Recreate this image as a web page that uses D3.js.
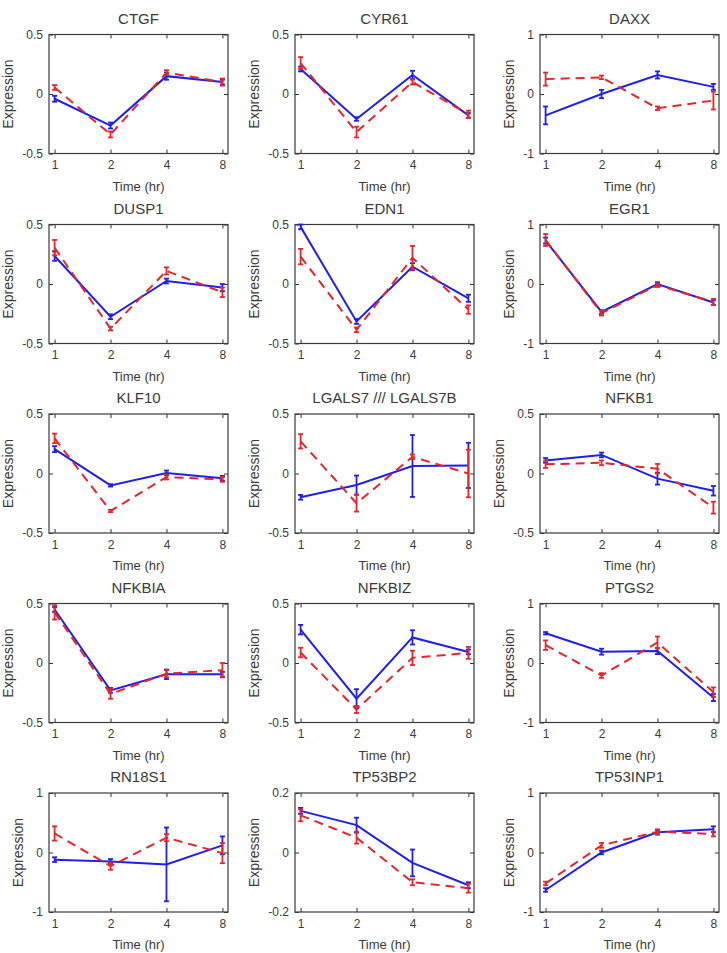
<!DOCTYPE html>
<html><head><meta charset="utf-8">
<script src="https://cdn.jsdelivr.net/npm/d3@7"></script>
<style>body{margin:0;background:#fff}</style>
</head><body><svg id="c" width="727" height="953"></svg>
<script>
const genes = ["CTGF","CYR61","DAXX","DUSP1","EDN1","EGR1","KLF10","LGALS7 /// LGALS7B","NFKB1","NFKBIA","NFKBIZ","PTGS2","RN18S1","TP53BP2","TP53INP1"];
const times = ["1","2","4","8"];
const yLimits = [[-0.5,0.5],[-0.5,0.5],[-1,1],[-0.5,0.5],[-0.5,0.5],[-1,1],[-0.5,0.5],[-0.5,0.5],[-0.5,0.5],[-0.5,0.5],[-0.5,0.5],[-1,1],[-1,1],[-0.2,0.2],[-1,1]];
const yTickLabelsHalf = ["-0.5","0","0.5"];
const yTickLabelsOne = ["-1","0","1"];
const yTickLabelsFifth = ["-0.2","0","0.2"];
const blueMean = [
 [-0.04,-0.265,0.15,0.10],[0.21,-0.21,0.16,-0.18],[-0.36,0.0,0.32,0.12],
 [0.235,-0.275,0.025,-0.03],[0.48,-0.315,0.145,-0.12],[0.73,-0.47,0.0,-0.31],
 [0.205,-0.10,0.005,-0.04],[-0.2,-0.097,0.063,0.068],[0.11,0.156,-0.043,-0.145],
 [0.45,-0.23,-0.095,-0.095],[0.28,-0.30,0.215,0.093],[0.5,0.19,0.2,-0.58],
 [-0.12,-0.15,-0.2,0.12],[0.14,0.092,-0.035,-0.11],[-0.63,0.0,0.34,0.39]];
const blueErr = [
 [0.025,0.025,0.03,0.02],[0.02,0.015,0.035,0.02],[0.15,0.07,0.06,0.05],
 [0.04,0.02,0.02,0.03],[0.02,0.02,0.03,0.03],[0.05,0.03,0.03,0.04],
 [0.025,0.01,0.02,0.02],[0.02,0.08,0.26,0.19],[0.02,0.02,0.05,0.04],
 [0.02,0.02,0.04,0.02],[0.04,0.08,0.06,0.02],[0.02,0.05,0.05,0.06],
 [0.04,0.04,0.62,0.15],[0.01,0.025,0.045,0.01],[0.03,0.03,0.04,0.05]];
const redMean = [
 [0.055,-0.34,0.18,0.10],[0.26,-0.32,0.10,-0.17],[0.25,0.28,-0.24,-0.11],
 [0.305,-0.375,0.11,-0.07],[0.23,-0.385,0.22,-0.215],[0.74,-0.49,-0.02,-0.3],
 [0.295,-0.315,-0.03,-0.05],[0.27,-0.25,0.14,0.0],[0.077,0.09,0.04,-0.287],
 [0.425,-0.26,-0.09,-0.06],[0.088,-0.39,0.043,0.085],[0.30,-0.21,0.345,-0.49],
 [0.32,-0.23,0.25,-0.01],[0.125,0.05,-0.1,-0.12],[-0.52,0.12,0.35,0.31]];
const redErr = [
 [0.02,0.025,0.02,0.03],[0.05,0.045,0.02,0.03],[0.11,0.03,0.03,0.15],
 [0.065,0.015,0.03,0.04],[0.065,0.02,0.1,0.035],[0.1,0.04,0.03,0.05],
 [0.04,0.01,0.02,0.02],[0.06,0.07,0.02,0.2],[0.03,0.02,0.04,0.05],
 [0.06,0.04,0.03,0.06],[0.04,0.03,0.06,0.05],[0.08,0.04,0.1,0.08],
 [0.12,0.06,0.06,0.17],[0.02,0.02,0.01,0.015],[0.03,0.04,0.04,0.04]];

const svg = d3.select("#c");
const FONT = "'Liberation Sans', Arial, Helvetica, sans-serif";
const TXT = "#3a3a3a";
const colLeft = [49, 295, 540];
const boxW = 179, boxH = 119;
const rowTop = [34.5, 224.5, 414, 603.5, 793];
const BLUE = "#1f1fe6", RED = "#e4262b";

genes.forEach((g, i) => {
  const r = Math.floor(i / 3), c = i % 3;
  const x0 = colLeft[c], y0 = rowTop[r];
  const gp = svg.append("g").attr("transform", `translate(${x0},${y0})`);
  const x = d3.scalePoint().domain(times).range([0, boxW]).padding(0.1);
  const lim = yLimits[i];
  const y = d3.scaleLinear().domain(lim).range([boxH, 0]);
  const labels = lim[1] === 1 ? yTickLabelsOne : (lim[1] === 0.5 ? yTickLabelsHalf : yTickLabelsFifth);
  const tv = [lim[0], 0, lim[1]];

  const yl = gp.append("g").call(d3.axisLeft(y).tickValues(tv).tickFormat((d, k) => labels[k]).tickSize(-4).tickPadding(6));
  const yr = gp.append("g").attr("transform", `translate(${boxW},0)`).call(d3.axisRight(y).tickValues(tv).tickFormat("").tickSize(-4));
  const xb = gp.append("g").attr("transform", `translate(0,${boxH})`).call(d3.axisBottom(x).tickSize(-4).tickPadding(7));
  const xt = gp.append("g").call(d3.axisTop(x).tickFormat("").tickSize(-4));
  [yl, yr, xb, xt].forEach(a => {
    a.select(".domain").remove();
    a.selectAll("line").attr("stroke", "#333").attr("stroke-width", 1);
    a.selectAll("text").attr("fill", TXT).style("font-family", FONT).style("font-size", "12px");
  });
  gp.append("rect").attr("x", 0).attr("y", 0).attr("width", boxW).attr("height", boxH)
    .attr("fill", "none").attr("stroke", "#3a3a3a").attr("stroke-width", 1.2);

  const series = [
    {m: blueMean[i], e: blueErr[i], col: BLUE, dash: null},
    {m: redMean[i], e: redErr[i], col: RED, dash: "9,6"}
  ];
  series.forEach(s => {
    const pts = times.map((t, k) => ({t, v: s.m[k], e: s.e[k]}));
    gp.append("path").datum(pts)
      .attr("d", d3.line().x(d => x(d.t)).y(d => y(d.v)))
      .attr("fill", "none").attr("stroke", s.col).attr("stroke-width", 2)
      .attr("stroke-dasharray", s.dash);
    const eb = gp.append("g").attr("stroke", s.col).attr("stroke-width", 1.8).attr("fill", "none");
    pts.forEach(d => {
      const xx = x(d.t), ya = y(d.v - d.e), yb = y(d.v + d.e);
      eb.append("line").attr("x1", xx).attr("x2", xx).attr("y1", ya).attr("y2", yb);
      eb.append("line").attr("x1", xx - 2.5).attr("x2", xx + 2.5).attr("y1", ya).attr("y2", ya);
      eb.append("line").attr("x1", xx - 2.5).attr("x2", xx + 2.5).attr("y1", yb).attr("y2", yb);
    });
  });

  gp.append("text").attr("x", boxW / 2).attr("y", -11).attr("text-anchor", "middle")
    .attr("fill", TXT).style("font-family", FONT).style("font-size", "15px").text(g);
  gp.append("text").attr("x", boxW / 2).attr("y", boxH + 37).attr("text-anchor", "middle")
    .attr("fill", TXT).style("font-family", FONT).style("font-size", "13px").text("Time (hr)");
  let maxW = 0;
  yl.selectAll("text").each(function () { maxW = Math.max(maxW, this.getComputedTextLength()); });
  const lx = -6 - maxW - 9;
  gp.append("text").attr("transform", `translate(${lx},${boxH / 2}) rotate(-90)`).attr("text-anchor", "middle")
    .attr("fill", TXT).style("font-family", FONT).style("font-size", "14px").text("Expression");
});
</script></body></html>
